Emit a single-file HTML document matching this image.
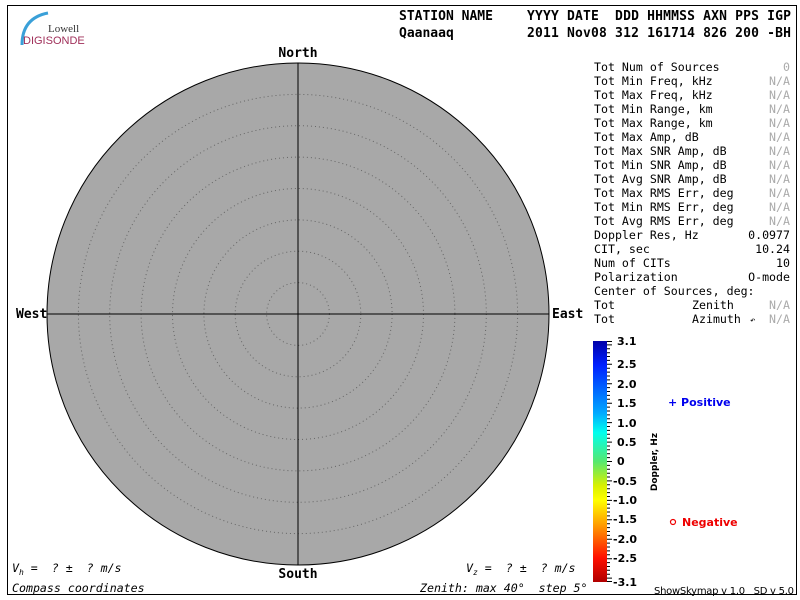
<!DOCTYPE html>
<html><head><meta charset="utf-8"><style>
body{margin:0;background:#fff;}
svg{display:block;}
text{white-space:pre;}
.m{font-family:"DejaVu Sans Mono","Liberation Mono",monospace;font-size:11.6px;}
.h{font-family:"DejaVu Sans Mono","Liberation Mono",monospace;font-size:13px;font-weight:bold;}
.b{font-family:"DejaVu Sans","Liberation Sans",sans-serif;font-size:11px;font-weight:bold;}
</style></head><body>
<svg width="800" height="600" xmlns="http://www.w3.org/2000/svg" xml:space="preserve">
<defs>
<linearGradient id="jet" x1="0" y1="0" x2="0" y2="1">
<stop offset="0" stop-color="#0000a8"/>
<stop offset="0.1" stop-color="#0020ff"/>
<stop offset="0.3" stop-color="#00aaff"/>
<stop offset="0.38" stop-color="#00ffee"/>
<stop offset="0.5" stop-color="#55e870"/>
<stop offset="0.6" stop-color="#d8f000"/>
<stop offset="0.66" stop-color="#ffff00"/>
<stop offset="0.76" stop-color="#ffa000"/>
<stop offset="0.9" stop-color="#ff1000"/>
<stop offset="1" stop-color="#b00000"/>
</linearGradient>
</defs>
<rect x="7.5" y="5.5" width="789" height="589" fill="none" stroke="#000"/>
<path d="M22 45 Q22 18 48 13" fill="none" stroke="#3aa0d8" stroke-width="3"/>
<text x="48" y="32" font-family="Liberation Serif,serif" font-size="11" fill="#333">Lowell</text>
<text x="23" y="44" font-family="Liberation Sans,sans-serif" font-size="11" fill="#a0305a">DIGISONDE</text>
<text x="399" y="20" class="h">STATION NAME</text>
<text x="527" y="20" class="h" textLength="264">YYYY DATE  DDD HHMMSS AXN PPS IGP</text>
<text x="399" y="37" class="h">Qaanaaq</text>
<text x="527" y="37" class="h" textLength="264">2011 Nov08 312 161714 826 200 -BH</text>
<circle cx="298" cy="314" r="251" fill="#a8a8a8" stroke="#000"/>
<g fill="none" stroke="#666" stroke-dasharray="1,3">
<circle cx="298" cy="314" r="31.4"/><circle cx="298" cy="314" r="62.8"/>
<circle cx="298" cy="314" r="94.1"/><circle cx="298" cy="314" r="125.5"/>
<circle cx="298" cy="314" r="156.9"/><circle cx="298" cy="314" r="188.3"/>
<circle cx="298" cy="314" r="219.6"/>
</g>
<line x1="298" y1="63" x2="298" y2="565" stroke="#000"/>
<line x1="47" y1="314" x2="549" y2="314" stroke="#000"/>
<text x="298" y="57" class="h" text-anchor="middle" font-size="12">North</text>
<text x="298" y="578" class="h" text-anchor="middle" font-size="12">South</text>
<text x="16" y="318" class="h" font-size="12">West</text>
<text x="552" y="318" class="h" font-size="12">East</text>
<g class="m">
<text x="12" y="572" font-style="italic">V<tspan font-size="8" dy="3">h</tspan><tspan dy="-3"> =  ? ±  ? m/s</tspan></text>
<text x="466" y="572" font-style="italic">V<tspan font-size="8" dy="3">z</tspan><tspan dy="-3"> =  ? ±  ? m/s</tspan></text>
<text x="12" y="592" font-style="italic">Compass coordinates</text>
<text x="420" y="592" font-style="italic">Zenith: max 40°  step 5°</text>
<text x="654" y="594" font-family="DejaVu Sans,sans-serif" font-size="10" textLength="140">ShowSkymap v 1.0   SD v 5.0</text>
</g>
<g class="m">
<text x="594" y="71">Tot Num of Sources</text><text x="790" y="71" text-anchor="end" fill="#aaa">0</text>
<text x="594" y="85">Tot Min Freq, kHz</text><text x="790" y="85" text-anchor="end" fill="#aaa">N/A</text>
<text x="594" y="99">Tot Max Freq, kHz</text><text x="790" y="99" text-anchor="end" fill="#aaa">N/A</text>
<text x="594" y="113">Tot Min Range, km</text><text x="790" y="113" text-anchor="end" fill="#aaa">N/A</text>
<text x="594" y="127">Tot Max Range, km</text><text x="790" y="127" text-anchor="end" fill="#aaa">N/A</text>
<text x="594" y="141">Tot Max Amp, dB</text><text x="790" y="141" text-anchor="end" fill="#aaa">N/A</text>
<text x="594" y="155">Tot Max SNR Amp, dB</text><text x="790" y="155" text-anchor="end" fill="#aaa">N/A</text>
<text x="594" y="169">Tot Min SNR Amp, dB</text><text x="790" y="169" text-anchor="end" fill="#aaa">N/A</text>
<text x="594" y="183">Tot Avg SNR Amp, dB</text><text x="790" y="183" text-anchor="end" fill="#aaa">N/A</text>
<text x="594" y="197">Tot Max RMS Err, deg</text><text x="790" y="197" text-anchor="end" fill="#aaa">N/A</text>
<text x="594" y="211">Tot Min RMS Err, deg</text><text x="790" y="211" text-anchor="end" fill="#aaa">N/A</text>
<text x="594" y="225">Tot Avg RMS Err, deg</text><text x="790" y="225" text-anchor="end" fill="#aaa">N/A</text>
<text x="594" y="239">Doppler Res, Hz</text><text x="790" y="239" text-anchor="end">0.0977</text>
<text x="594" y="253">CIT, sec</text><text x="790" y="253" text-anchor="end">10.24</text>
<text x="594" y="267">Num of CITs</text><text x="790" y="267" text-anchor="end">10</text>
<text x="594" y="281">Polarization</text><text x="790" y="281" text-anchor="end">O-mode</text>
<text x="594" y="295">Center of Sources, deg:</text>
<text x="594" y="309">Tot</text><text x="692" y="309">Zenith</text><text x="790" y="309" text-anchor="end" fill="#aaa">N/A</text>
<text x="594" y="323">Tot</text><text x="692" y="323">Azimuth</text><text x="750" y="323" font-size="9">↶</text><text x="790" y="323" text-anchor="end" fill="#aaa">N/A</text>
</g>
<rect x="593" y="341" width="14" height="241" fill="url(#jet)"/>
<path stroke="#000" fill="none" d="M607 341.5h5M607 344.9h5M607 348.8h3M607 352.7h3M607 356.5h3M607 360.4h3M607 364.3h5M607 368.2h3M607 372.1h3M607 376h3M607 379.9h3M607 383.8h5M607 387.6h3M607 391.5h3M607 395.4h3M607 399.3h3M607 403.2h5M607 407.1h3M607 411h3M607 414.9h3M607 418.7h3M607 422.6h5M607 426.5h3M607 430.4h3M607 434.3h3M607 438.2h3M607 442.1h5M607 446h3M607 449.8h3M607 453.7h3M607 457.6h3M607 461.5h5M607 465.4h3M607 469.3h3M607 473.2h3M607 477h3M607 480.9h5M607 484.8h3M607 488.7h3M607 492.6h3M607 496.5h3M607 500.4h5M607 504.3h3M607 508.1h3M607 512h3M607 515.9h3M607 519.8h5M607 523.7h3M607 527.6h3M607 531.5h3M607 535.4h3M607 539.2h5M607 543.1h3M607 547h3M607 550.9h3M607 554.8h3M607 558.7h5M607 562.6h3M607 566.5h3M607 570.3h3M607 574.2h3M607 578.1h5M607 581.5h5"/>
<g class="b">
<text x="617" y="345">3.1</text><text x="617" y="368">2.5</text><text x="617" y="388">2.0</text>
<text x="617" y="407">1.5</text><text x="617" y="427">1.0</text><text x="617" y="446">0.5</text>
<text x="617" y="465">0</text><text x="613" y="485">-0.5</text><text x="613" y="504">-1.0</text>
<text x="613" y="523">-1.5</text><text x="613" y="543">-2.0</text><text x="613" y="562">-2.5</text>
<text x="613" y="586">-3.1</text>
</g>
<text x="657" y="462" font-family="DejaVu Sans,sans-serif" font-size="9" font-weight="bold" transform="rotate(-90 657 462)" text-anchor="middle">Doppler, Hz</text>
<text x="668" y="406" class="b" fill="#0000ee" font-size="10">+ Positive</text>
<circle cx="673" cy="522" r="2.5" fill="none" stroke="#e00" stroke-width="1.2"/>
<text x="682" y="526" class="b" fill="#e00" font-size="10">Negative</text>
</svg>
</body></html>
